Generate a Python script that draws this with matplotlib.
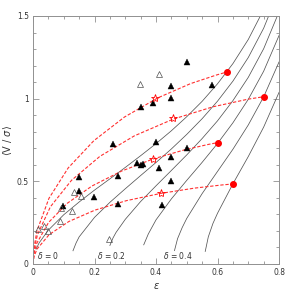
import matplotlib
matplotlib.use("Agg")
import matplotlib.pyplot as plotter
from matplotlib.ticker import MultipleLocator, FuncFormatter

# anisotropy curves (eps, v/sigma)
d00_eps = [0.01, 0.02, 0.05, 0.1, 0.15, 0.2, 0.25, 0.3, 0.35, 0.4, 0.45, 0.5, 0.55, 0.6, 0.65, 0.7, 0.75]
d00_v   = [0.09, 0.128, 0.205, 0.298, 0.375, 0.447, 0.515, 0.584, 0.655, 0.728, 0.806, 0.891, 0.984, 1.090, 1.212, 1.358, 1.539]
d01_eps = [0.13, 0.14, 0.15, 0.2, 0.25, 0.3, 0.35, 0.4, 0.45, 0.5, 0.55, 0.6, 0.65, 0.7, 0.75, 0.8]
d01_v   = [0.08, 0.127, 0.164, 0.282, 0.373, 0.455, 0.535, 0.614, 0.696, 0.784, 0.879, 0.985, 1.106, 1.249, 1.426, 1.655]
d02_eps = [0.25, 0.26, 0.27, 0.3, 0.35, 0.4, 0.45, 0.5, 0.55, 0.6, 0.65, 0.7, 0.75, 0.8]
d02_v   = [0.112, 0.157, 0.191, 0.270, 0.378, 0.473, 0.566, 0.660, 0.759, 0.866, 0.988, 1.129, 1.302, 1.525]
d03_eps = [0.36, 0.375, 0.4, 0.45, 0.5, 0.55, 0.6, 0.65, 0.7, 0.75, 0.8]
d03_v   = [0.116, 0.182, 0.267, 0.394, 0.506, 0.615, 0.729, 0.854, 0.996, 1.166, 1.382]
d04_eps = [0.46, 0.47, 0.485, 0.5, 0.55, 0.6, 0.65, 0.7, 0.75, 0.8]
d04_v   = [0.081, 0.153, 0.220, 0.276, 0.426, 0.560, 0.694, 0.841, 1.011, 1.222]
d05_eps = [0.56, 0.57, 0.585, 0.6, 0.65, 0.7, 0.75, 0.8]
d05_v   = [0.076, 0.164, 0.245, 0.307, 0.485, 0.650, 0.828, 1.038]

# red dashed tracks
t1_eps = [0.0, 0.0033, 0.0131, 0.0518, 0.1144, 0.1979, 0.2975, 0.4061, 0.5123, 0.5964, 0.63]
t1_v   = [0.0, 0.101, 0.202, 0.397, 0.581, 0.746, 0.889, 1.005, 1.091, 1.143, 1.161]
t2_eps = [0.0, 0.0036, 0.0142, 0.0565, 0.1251, 0.2174, 0.3295, 0.4555, 0.5856, 0.6995, 0.751]
t2_v   = [0.0, 0.088, 0.176, 0.346, 0.506, 0.651, 0.775, 0.876, 0.951, 0.997, 1.012]
t3_eps = [0.0, 0.0032, 0.0127, 0.0504, 0.1112, 0.1920, 0.2879, 0.3917, 0.4918, 0.5695, 0.60]
t3_v   = [0.0, 0.064, 0.127, 0.251, 0.367, 0.472, 0.562, 0.636, 0.690, 0.723, 0.734]
t4_eps = [0.0, 0.0033, 0.0133, 0.0527, 0.1165, 0.2016, 0.3035, 0.4153, 0.5255, 0.6141, 0.65]
t4_v   = [0.0, 0.046, 0.091, 0.178, 0.257, 0.326, 0.383, 0.427, 0.459, 0.478, 0.484]

end_eps  = [0.630, 0.751, 0.600, 0.650]
end_v    = [1.161, 1.012, 0.734, 0.484]
star_eps = [0.397, 0.456, 0.391, 0.416]
star_v   = [1.002, 0.881, 0.635, 0.428]

fill_eps = [0.500, 0.581, 0.449, 0.449, 0.389, 0.350, 0.259, 0.399, 0.500, 0.449, 0.339, 0.350,
            0.359, 0.410, 0.277, 0.449, 0.418, 0.277, 0.149, 0.149, 0.198, 0.097]
fill_v   = [1.224, 1.083, 1.079, 1.006, 0.972, 0.948, 0.726, 0.738, 0.700, 0.645, 0.609, 0.599,
            0.603, 0.579, 0.534, 0.504, 0.357, 0.363, 0.528, 0.443, 0.407, 0.351]
open_eps = [0.409, 0.349, 0.133, 0.156, 0.090, 0.127, 0.088, 0.017, 0.036, 0.050, 0.247]
open_v   = [1.149, 1.089, 0.437, 0.413, 0.341, 0.323, 0.262, 0.210, 0.230, 0.200, 0.151]

fig = plotter.figure(figsize=(2.95, 2.95), dpi=100)
ax = fig.add_axes([0.1119, 0.1051, 0.834, 0.8407])

for e, v in [(d00_eps, d00_v), (d01_eps, d01_v), (d02_eps, d02_v),
             (d03_eps, d03_v), (d04_eps, d04_v), (d05_eps, d05_v)]:
    ax.plot(e, v, color="#555555", lw=0.55)

for e, v in [(t1_eps, t1_v), (t2_eps, t2_v), (t3_eps, t3_v), (t4_eps, t4_v)]:
    ax.plot(e, v, color="#ff3030", lw=0.8, dashes=(3, 1.6))

ax.plot(fill_eps, fill_v, "^", color="black", ms=4.3, mew=0.3, ls="none")
ax.plot(open_eps, open_v, "^", mfc="none", mec="#505050", ms=4.3, mew=0.5, ls="none")
ax.plot(end_eps, end_v, "o", color="red", ms=4.0, ls="none")
ax.plot(star_eps, star_v, "*", mfc="none", mec="red", ms=6, mew=0.6, ls="none")

ax.text(0.013, 0.05, r"$\delta$ = 0", fontsize=5.5, va="center", color="#333333")
ax.text(0.208, 0.05, r"$\delta$ = 0.2", fontsize=5.5, va="center", color="#333333")
ax.text(0.423, 0.05, r"$\delta$ = 0.4", fontsize=5.5, va="center", color="#333333")

ax.set_xlim(0, 0.8)
ax.set_ylim(0, 1.5)
ax.xaxis.set_major_locator(MultipleLocator(0.2))
ax.xaxis.set_minor_locator(MultipleLocator(0.05))
ax.yaxis.set_major_locator(MultipleLocator(0.5))
ax.yaxis.set_minor_locator(MultipleLocator(0.1))
ax.xaxis.set_major_formatter(FuncFormatter(lambda x, p: "%g" % round(x, 2)))
ax.yaxis.set_major_formatter(FuncFormatter(lambda x, p: "%g" % round(x, 2)))
ax.tick_params(which="both", direction="in", top=True, right=True, colors="#909090",
               labelcolor="#333333", labelsize=5.5, width=0.6)
ax.tick_params(which="major", length=4, pad=3)
ax.tick_params(which="minor", length=2)
for s in ax.spines.values():
    s.set_color("#909090")
    s.set_linewidth(0.7)

ax.set_xlabel(r"$\epsilon$", fontsize=7, color="#333333", labelpad=3)
ax.set_ylabel(r"$\langle$V / $\sigma\rangle$", fontsize=7, color="#333333", labelpad=2)

fig.savefig("out.png", dpi=100)
